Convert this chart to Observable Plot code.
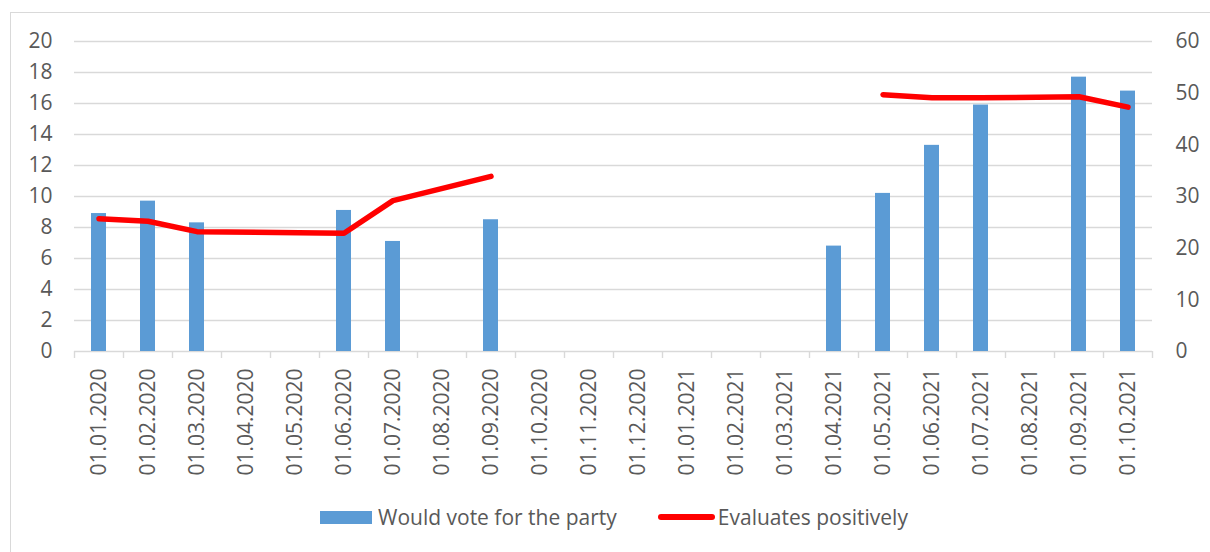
<!DOCTYPE html>
<html>
<head>
<meta charset="utf-8">
<script src="https://cdn.jsdelivr.net/npm/d3@7"></script>
<script src="https://cdn.jsdelivr.net/npm/@observablehq/plot@0.6"></script>
<style>
  html, body { margin: 0; padding: 0; background: #fff; overflow: hidden; }
  body { position: relative; width: 1210px; height: 552px; font-family: "Open Sans", sans-serif; }
  #frame { position: absolute; left: 10px; top: 12px; width: 1220px; height: 560px; border: 1px solid #d9d9d9; box-sizing: border-box; pointer-events: none; }
  #chart { position: absolute; left: 0; top: 0; }
  #legend { position: absolute; left: 320px; top: 503px; height: 28px; display: flex; align-items: center; font-size: 21px; color: #595959; white-space: nowrap; }
  .sw-bar { width: 52px; height: 13px; background: #5B9BD5; margin-right: 6px; }
  .sw-line { width: 57px; height: 6px; border-radius: 3px; background: #FF0000; margin-right: 3px; margin-left: 41px; }
</style>
</head>
<body>
<div id="frame"></div>
<div id="chart"></div>
<div id="legend">
  <div class="sw-bar"></div><span>Would vote for the party</span>
  <div class="sw-line"></div><span>Evaluates positively</span>
</div>
<script>
const dates = ["01.01.2020","01.02.2020","01.03.2020","01.04.2020","01.05.2020","01.06.2020","01.07.2020","01.08.2020","01.09.2020","01.10.2020","01.11.2020","01.12.2020","01.01.2021","01.02.2021","01.03.2021","01.04.2021","01.05.2021","01.06.2021","01.07.2021","01.08.2021","01.09.2021","01.10.2021"];
const wouldVote = [8.9, 9.7, 8.3, null, null, 9.1, 7.1, null, 8.5, null, null, null, null, null, null, 6.8, 10.2, 13.3, 15.9, null, 17.7, 16.8];
const evaluatesPositively = [25.7, 25.2, 23.2, null, null, 22.9, 29.2, null, 33.9, null, null, null, null, null, null, null, 49.7, 49.1, 49.1, null, 49.3, 47.3];
const leftTicks = [0, 2, 4, 6, 8, 10, 12, 14, 16, 18, 20];
const rightTicks = [0, 10, 20, 30, 40, 50, 60];
const seriesNames = ["Would vote for the party", "Evaluates positively"];

const ratio = 3; // right axis (0-60) vs left axis (0-20)
const bars = dates.map((d, i) => ({date: d, value: wouldVote[i]})).filter(d => d.value != null);
const line = dates.map((d, i) => ({date: d, value: evaluatesPositively[i], year: d.slice(-4)})).filter(d => d.value != null);

const grid = "#d9d9d9";
const textColor = "#595959";

const chart = Plot.plot({
  width: 1210,
  height: 495,
  marginLeft: 74,
  marginRight: 58,
  marginTop: 41,
  marginBottom: 144,
  style: {fontFamily: "Open Sans, sans-serif", fontSize: "21px", color: textColor, background: "transparent"},
  x: {type: "band", domain: dates, paddingInner: 0, paddingOuter: 0, label: null},
  y: {domain: [0, 20], label: null},
  marks: [
    Plot.ruleY(leftTicks, {stroke: grid, strokeWidth: 1.4}),
    Plot.barY(bars, {x: "date", y: "value", fill: "#5B9BD5", insetLeft: 17, insetRight: 17}),
    Plot.ruleX(dates, {x: d => d, dx: -24.5, stroke: grid, strokeWidth: 1.4, insetTop: 310, insetBottom: -7}),
    Plot.ruleX(dates.slice(-1), {x: d => d, dx: 24.5, stroke: grid, strokeWidth: 1.4, insetTop: 310, insetBottom: -7}),
    Plot.line(line, {x: "date", y: d => d.value / ratio, z: "year", stroke: "#FF0000", strokeWidth: 5.5, strokeLinecap: "round", strokeLinejoin: "round"}),
    Plot.axisY({anchor: "left", ticks: leftTicks, tickSize: 0, tickPadding: 22, label: null, fill: textColor}),
    Plot.axisY({anchor: "right", ticks: rightTicks.map(v => v / ratio), tickFormat: v => String(Math.round(v * ratio)), tickSize: 0, tickPadding: 23, label: null, fill: textColor}),
    Plot.axisX({anchor: "bottom", tickSize: 0, tickPadding: 17, tickRotate: -90, label: null, fill: textColor})
  ]
});
document.getElementById("chart").appendChild(chart);
</script>
</body>
</html>
